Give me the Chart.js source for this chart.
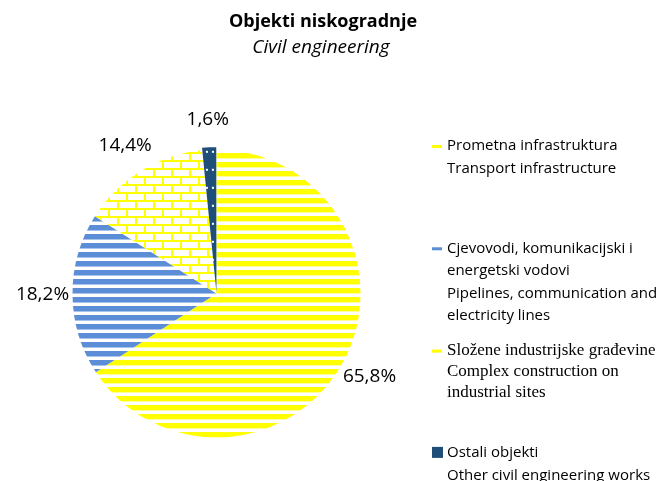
<!DOCTYPE html>
<html>
<head>
<meta charset="utf-8">
<script src="https://cdn.jsdelivr.net/npm/chart.js@4.4.1/dist/chart.umd.min.js"></script>
<style>
  body { margin: 0; background: #fff; }
  canvas { display: block; }
</style>
</head>
<body>
<canvas id="grafikon" width="671" height="481"></canvas>
<script>
// podaci
var naslov = 'Objekti niskogradnje';
var podnaslov = 'Civil engineering';
var kategorije = [
  ['Prometna infrastruktura', 'Transport infrastructure'],
  ['Cjevovodi, komunikacijski i', 'energetski vodovi', 'Pipelines, communication and', 'electricity lines'],
  ['Složene industrijske građevine', 'Complex construction on', 'industrial sites'],
  ['Ostali objekti', 'Other civil engineering works']
];
var udjeli = [65.8, 18.2, 14.4, 1.6];

// uzorci (patterns) kao u Excelu
function napraviUzorak(w, h, crtaj) {
  var c = document.createElement('canvas');
  c.width = w; c.height = h;
  var x = c.getContext('2d');
  crtaj(x);
  return document.getElementById('grafikon').getContext('2d').createPattern(c, 'repeat');
}

var zutePruge = napraviUzorak(9, 9, function(x) {
  x.fillStyle = '#ffffff'; x.fillRect(0, 0, 9, 9);
  x.fillStyle = '#ffff99'; x.fillRect(0, 0, 9, 6);
  x.fillStyle = '#ffff00'; x.fillRect(0, 0, 9, 5);
});
var plavePruge = napraviUzorak(9, 9, function(x) {
  x.fillStyle = '#ffffff'; x.fillRect(0, 0, 9, 9);
  x.fillStyle = '#a9c4ea'; x.fillRect(0, 0, 9, 6);
  x.fillStyle = '#5b8ed6'; x.fillRect(0, 0, 9, 5);
});
var cigle = napraviUzorak(18, 16, function(x) {
  x.fillStyle = '#ffffff'; x.fillRect(0, 0, 18, 16);
  x.fillStyle = '#ffff00';
  x.fillRect(0, 0, 18, 2);
  x.fillRect(0, 8, 18, 2);
  x.fillRect(0, 0, 2, 8);
  x.fillRect(9, 8, 2, 8);
});
var tockice = napraviUzorak(6, 18, function(x) {
  x.fillStyle = '#1f4e79'; x.fillRect(0, 0, 6, 18);
  x.fillStyle = '#ffffff'; x.fillRect(2, 8, 2, 2);
});
var boje = [zutePruge, plavePruge, cigle, tockice];
var bojeLegende = ['#ffff00', '#5b8ed6', '#ffff00', '#1f4e79'];

// naslov i podnaslov
var naslovPlugin = {
  id: 'naslov',
  afterDraw: function(chart) {
    var ctx = chart.ctx;
    ctx.save();
    ctx.fillStyle = '#000';
    ctx.textAlign = 'center';
    ctx.textBaseline = 'middle';
    ctx.font = 'bold 18px "Open Sans"';
    ctx.fillText(naslov, 323, 22);
    ctx.font = 'italic 19px "Open Sans"';
    ctx.fillText(podnaslov, 321, 48);
    ctx.restore();
  }
};

// postotci uz kriske
var postotciPlugin = {
  id: 'postotci',
  afterDatasetsDraw: function(chart) {
    var ctx = chart.ctx;
    var meta = chart.getDatasetMeta(0);
    ctx.save();
    ctx.fillStyle = '#000';
    ctx.textAlign = 'center';
    ctx.textBaseline = 'middle';
    ctx.font = '19px "Open Sans"';
    meta.data.forEach(function(arc, i) {
      var p = arc.getProps(['x', 'y', 'startAngle', 'endAngle', 'outerRadius'], true);
      var a = (p.startAngle + p.endAngle) / 2;
      var r = p.outerRadius + 30;
      var tekst = udjeli[i].toFixed(1).replace('.', ',') + '%';
      ctx.fillText(tekst, p.x + Math.cos(a) * r, p.y + Math.sin(a) * r);
    });
    ctx.restore();
  }
};

// legenda desno
var legendaPlugin = {
  id: 'legenda',
  afterDraw: function(chart) {
    var ctx = chart.ctx;
    ctx.save();
    ctx.textBaseline = 'middle';
    ctx.textAlign = 'left';
    chart.data.labels.forEach(function(linije, i) {
      var y0 = 146 + i * 102.3;
      var serif = (i == 2);
      ctx.fillStyle = bojeLegende[i];
      if (i == 3) {
        ctx.fillRect(432, y0 - 6, 11, 11);
      } else {
        ctx.fillRect(432, y0 - 1, 10, 3);
      }
      ctx.fillStyle = '#000';
      ctx.font = serif ? '17px "Liberation Serif"' : '15px "Open Sans"';
      var razmak = serif ? 21 : 22.5;
      linije.forEach(function(l, j) {
        ctx.fillText(l, 447, y0 + j * razmak);
      });
    });
    ctx.restore();
  }
};

var grafikon = new Chart(document.getElementById('grafikon').getContext('2d'), {
  type: 'pie',
  data: {
    labels: kategorije,
    datasets: [{
      data: udjeli,
      backgroundColor: boje,
      borderWidth: 0,
      offset: [0, 0, 0, 5]
    }]
  },
  options: {
    responsive: false,
    animation: false,
    layout: {
      padding: { left: 70, right: 308, top: 145, bottom: 39 }
    },
    plugins: {
      legend: { display: false },
      tooltip: { enabled: false },
      title: { display: false }
    }
  },
  plugins: [naslovPlugin, postotciPlugin, legendaPlugin]
});
</script>
</body>
</html>
